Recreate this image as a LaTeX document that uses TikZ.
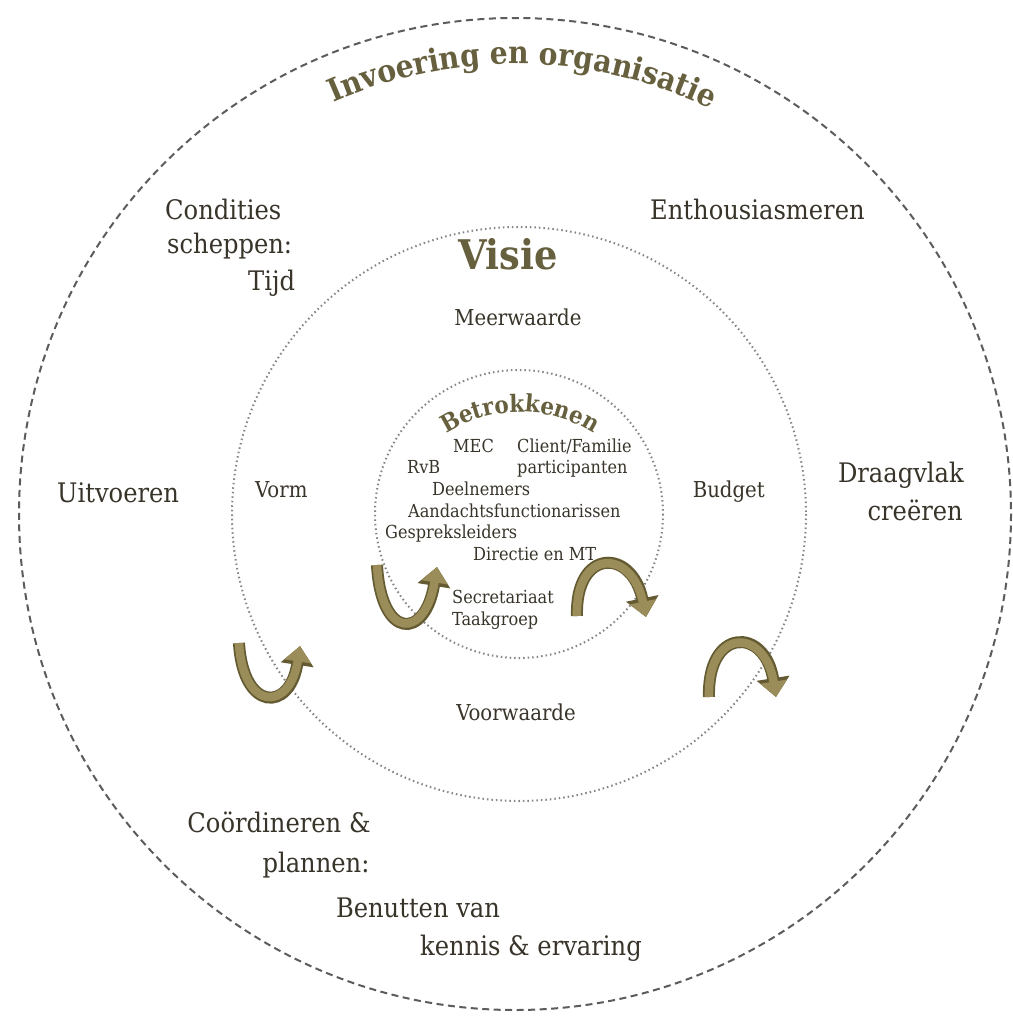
\documentclass[tikz,border=0pt]{standalone}
\usepackage{fontspec}
\setmainfont{DejaVu Serif Condensed}
\usetikzlibrary{arrows.meta,decorations.text}
\definecolor{ink}{HTML}{38342A}
\definecolor{olive}{HTML}{67603E}
\definecolor{ringgray}{HTML}{5C5C5C}
\definecolor{dotgray}{HTML}{858585}
\definecolor{gold}{HTML}{9A8D5A}
\definecolor{golddark}{HTML}{655B32}

\begin{document}
\begin{tikzpicture}[x=1bp, y=-1bp,
    outerlbl/.style={font=\fontsize{27}{30}\selectfont, text=ink, inner sep=0pt},
    midlbl/.style={font=\fontsize{22}{25}\selectfont, text=ink, inner sep=0pt},
    corelbl/.style={font=\fontsize{18}{21}\selectfont, text=ink, inner sep=0pt},
    outerring/.style={draw=ringgray, line width=2bp, dash pattern=on 7bp off 4.5bp},
    dotring/.style={draw=dotgray, line width=2bp, dash pattern=on 1.5bp off 3bp},
    turn/.style={preaction={draw=golddark, line width=12bp, -{Triangle[length=19bp,width=32bp]}},
      line width=8.5bp, color=gold, -{Triangle[length=15.5bp,width=26bp]}}]
  \useasboundingbox[fill=white] (0,0) rectangle (1013,1016);
  \coordinate (c) at (515,514);
  \coordinate (m) at (519,514);

  % rings
  \draw[outerring] (c) circle[radius=496];
  \draw[dotring] (m) circle[radius=287];
  \draw[dotring] (m) circle[radius=144];

  % ring titles
  \path[decorate, decoration={text along path, text align=center, text color=olive,
      text={|\fontsize{31.5}{34}\selectfont\bfseries|Invoering en organisatie}}]
    (c) ++(224:450) arc[start angle=224, end angle=318, radius=450];
  \node[font=\fontsize{41}{45}\selectfont\bfseries, text=olive, inner sep=0pt, anchor=base] (visie) at (508,269) {Visie};
  \path[decorate, decoration={text along path, text align=center, text color=olive,
      text={|\fontsize{24}{27}\selectfont\bfseries|Betrokkenen}}]
    (520,549) ++(220:137) arc[start angle=220, end angle=320, radius=137];

  % outer ring
  \node[outerlbl, anchor=base west] (cond) at (165,219) {Condities};
  \node[outerlbl, anchor=base west] (schep) at (167,253) {scheppen:};
  \node[outerlbl, anchor=base west] (tijd) at (248,290) {Tijd};
  \node[outerlbl, anchor=base west] (enth) at (650,219) {Enthousiasmeren};
  \node[outerlbl, anchor=base west] (uitv) at (57,502) {Uitvoeren};
  \node[outerlbl, anchor=base east] (draag) at (964,482) {Draagvlak};
  \node[outerlbl, anchor=base east] (creeer) at (963,520) {creëren};
  \node[outerlbl, anchor=base] (coord) at (279,832) {Coördineren \&};
  \node[outerlbl, anchor=base] (plan) at (316,872) {plannen:};
  \node[outerlbl, anchor=base] (benut) at (418,917) {Benutten van};
  \node[outerlbl, anchor=base] (kennis) at (531,955) {kennis \& ervaring};

  % middle ring
  \node[midlbl, anchor=base] (meer) at (518,325) {Meerwaarde};
  \node[midlbl, anchor=base west] (vorm) at (255,497) {Vorm};
  \node[midlbl, anchor=base east] (budget) at (765,497) {Budget};
  \node[midlbl, anchor=base] (voorw) at (516,720) {Voorwaarde};

  % core
  \node[corelbl, anchor=base west] (mec) at (453,452) {MEC};
  \node[corelbl, anchor=base west] (client) at (517,452) {Client/Familie};
  \node[corelbl, anchor=base west] (rvb) at (407,473) {RvB};
  \node[corelbl, anchor=base west] (part) at (517,473) {participanten};
  \node[corelbl, anchor=base west] (deel) at (432,495) {Deelnemers};
  \node[corelbl, anchor=base west] (aand) at (408,517) {Aandachtsfunctionarissen};
  \node[corelbl, anchor=base west] (gesp) at (385,538) {Gespreksleiders};
  \node[corelbl, anchor=base west] (dir) at (473,560) {Directie en MT};
  \node[corelbl, anchor=base west] (secr) at (452,603) {Secretariaat};
  \node[corelbl, anchor=base west] (taak) at (452,625) {Taakgroep};

  % turning arrows
  \draw[turn] (239,643) .. controls (243,712) and (290,712) .. (300,646);
  \draw[turn] (377,565) .. controls (381,640) and (425,640) .. (437,567);
  \draw[turn] (577,616) .. controls (575,548) and (632,548) .. (646,617);
  \draw[turn] (709,697) .. controls (707,627) and (765,627) .. (776,697);
\end{tikzpicture}
\end{document}
